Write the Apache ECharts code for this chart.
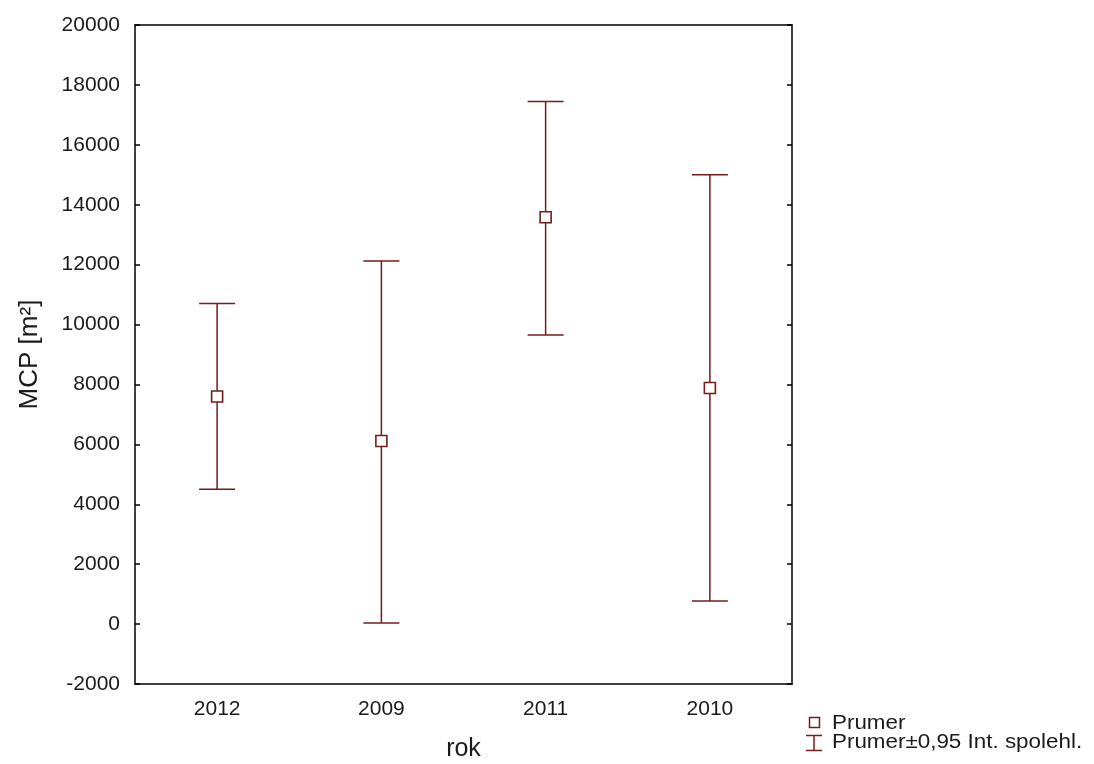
<!DOCTYPE html>
<html>
<head>
<meta charset="utf-8">
<script src="https://cdn.jsdelivr.net/npm/echarts@6/dist/echarts.min.js"></script>
<style>
html,body{margin:0;padding:0;background:#fff;}
#chart{width:1094px;height:764px;}
</style>
</head>
<body>
<div id="chart"></div>
<script>
const categories = ['2012', '2009', '2011', '2010'];
const means = [7600, 6110, 13580, 7880];
const lower = [4500, 40, 9650, 770];
const upper = [10700, 12120, 17450, 15000];
const yTicks = { min: -2000, max: 20000, interval: 2000 };
const legendLabels = ['Prumer', 'Prumer±0,95 Int. spolehl.'];

const COLOR = '#741c1c';
const TEXT = '#1a1a1a';
const FONT = 'Liberation Sans, Arial, sans-serif';

const errData = categories.map((c, i) => [i, lower[i], upper[i]]);

const chart = echarts.init(document.getElementById('chart'));
chart.setOption({
  animation: false,
  backgroundColor: '#fff',
  grid: { left: 135, right: 302, top: 25, bottom: 80, outerBoundsMode: 'none', containLabel: false },
  xAxis: [
    {
      type: 'category',
      data: categories,
      position: 'bottom',
      name: 'rok',
      nameLocation: 'middle',
      nameGap: 53,
      nameTextStyle: { fontFamily: FONT, fontSize: 25, color: TEXT },
      axisLine: { onZero: false, lineStyle: { color: '#000', width: 1.5 } },
      axisTick: { inside: true, alignWithLabel: true, length: 5, lineStyle: { color: '#000', width: 1.5 } },
      axisLabel: { fontFamily: FONT, fontSize: 21, color: TEXT, margin: 15 },
      splitLine: { show: false }
    },
    {
      type: 'category',
      data: categories,
      position: 'top',
      axisLine: { onZero: false, lineStyle: { color: '#000', width: 1.5 } },
      axisTick: { inside: true, alignWithLabel: true, length: 5, lineStyle: { color: '#000', width: 1.5 } },
      axisLabel: { show: false },
      splitLine: { show: false }
    }
  ],
  yAxis: [
    {
      type: 'value',
      min: yTicks.min, max: yTicks.max, interval: yTicks.interval,
      position: 'left',
      name: 'MCP [m²]',
      nameLocation: 'middle',
      nameGap: 92,
      nameRotate: 90,
      nameTextStyle: { fontFamily: FONT, fontSize: 26, color: TEXT },
      axisLine: { show: true, onZero: false, lineStyle: { color: '#000', width: 1.5 } },
      axisTick: { show: true, inside: true, length: 5, lineStyle: { color: '#000', width: 1.5 } },
      axisLabel: { fontFamily: FONT, fontSize: 21, color: TEXT, margin: 15, formatter: v => String(v) },
      splitLine: { show: false }
    },
    {
      type: 'value',
      min: yTicks.min, max: yTicks.max, interval: yTicks.interval,
      position: 'right',
      axisLine: { show: true, onZero: false, lineStyle: { color: '#000', width: 1.5 } },
      axisTick: { show: true, inside: true, length: 5, lineStyle: { color: '#000', width: 1.5 } },
      axisLabel: { show: false },
      splitLine: { show: false }
    }
  ],
  graphic: [
    { type: 'rect', shape: { x: 809.5, y: 717.5, width: 10, height: 10 }, style: { fill: '#fff', stroke: COLOR, lineWidth: 1.5 } },
    { type: 'text', x: 832, y: 723, scaleX: 1.12, style: { text: legendLabels[0], font: '20px ' + FONT, fill: TEXT, textVerticalAlign: 'middle' } },
    { type: 'line', shape: { x1: 806, y1: 735.5, x2: 822, y2: 735.5 }, style: { stroke: COLOR, lineWidth: 1.5 } },
    { type: 'line', shape: { x1: 814, y1: 735.5, x2: 814, y2: 750.5 }, style: { stroke: COLOR, lineWidth: 1.5 } },
    { type: 'line', shape: { x1: 806, y1: 750.5, x2: 822, y2: 750.5 }, style: { stroke: COLOR, lineWidth: 1.5 } },
    { type: 'text', x: 832, y: 742, scaleX: 1.12, style: { text: legendLabels[1], font: '20px ' + FONT, fill: TEXT, textVerticalAlign: 'middle' } }
  ],
  series: [
    {
      name: legendLabels[1],
      type: 'custom',
      xAxisIndex: 0,
      yAxisIndex: 0,
      data: errData,
      z: 2,
      renderItem: function (params, api) {
        const idx = api.value(0);
        const lo = api.coord([idx, api.value(1)]);
        const hi = api.coord([idx, api.value(2)]);
        const half = 18;
        const style = { stroke: COLOR, lineWidth: 1.5, fill: null };
        return {
          type: 'group',
          children: [
            { type: 'line', shape: { x1: hi[0], y1: hi[1], x2: lo[0], y2: lo[1] }, style: style },
            { type: 'line', shape: { x1: hi[0] - half, y1: hi[1], x2: hi[0] + half, y2: hi[1] }, style: style },
            { type: 'line', shape: { x1: lo[0] - half, y1: lo[1], x2: lo[0] + half, y2: lo[1] }, style: style }
          ]
        };
      }
    },
    {
      name: legendLabels[0],
      type: 'scatter',
      xAxisIndex: 0,
      yAxisIndex: 0,
      data: means,
      symbol: 'rect',
      symbolSize: 11,
      itemStyle: { color: '#fff', borderColor: COLOR, borderWidth: 1.6, opacity: 1 },
      z: 5
    }
  ]
});
</script>
</body>
</html>
